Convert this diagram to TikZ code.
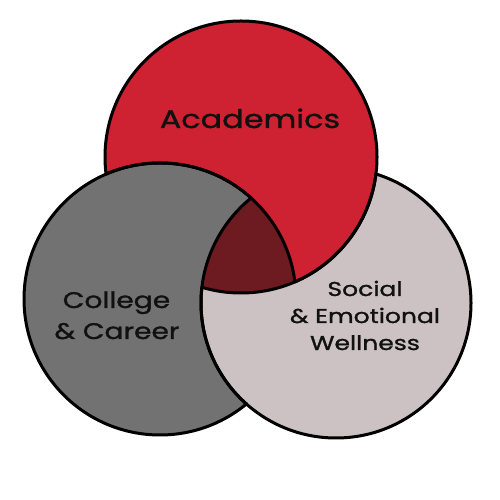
\documentclass[tikz,border=0pt]{standalone}
\usepackage{fontspec}
\newfontfamily\vfont[FakeStretch=1.25,FakeBold=1.3]{Poppins}
\definecolor{acadred}{HTML}{CE2131}
\definecolor{collgray}{HTML}{727272}
\definecolor{socpink}{HTML}{CCC2C3}
\definecolor{coredark}{HTML}{6D1A20}
\definecolor{inkc}{HTML}{111111}
\tikzset{
  ring/.style={draw=black, line width=3pt},
  lbl/.style={anchor=base, inner sep=0pt, text=inkc, font=\vfont},
}
\newcommand{\outside}[2]{\clip (-20,-20) rectangle (520,520) (#1) circle (#2);}
\begin{document}
\begin{tikzpicture}[x=1pt,y=1pt]
\useasboundingbox (0,0) rectangle (500,500);
\fill[white] (0,0) rectangle (500,500);
\coordinate (R) at (241,343);
\coordinate (G) at (160,201);
\coordinate (P) at (336,197);
\def\rR{136pt}
\def\rG{136pt}
\def\rP{135pt}
% fills
\fill[socpink] (P) circle (\rP);
\fill[acadred] (R) circle (\rR);
\begin{scope}[even odd rule]\outside{P}{\rP}\fill[collgray] (G) circle (\rG);\end{scope}
\begin{scope}\clip (G) circle (\rG);\clip (R) circle (\rR);\fill[coredark] (P) circle (\rP);\end{scope}
% outlines: pink (outside red or inside gray)
\begin{scope}[even odd rule]\outside{R}{\rR}\draw[ring] (P) circle (\rP);\end{scope}
\begin{scope}\clip (G) circle (\rG);\draw[ring] (P) circle (\rP);\end{scope}
% red (outside gray or inside pink)
\begin{scope}[even odd rule]\outside{G}{\rG}\draw[ring] (R) circle (\rR);\end{scope}
\begin{scope}\clip (P) circle (\rP);\draw[ring] (R) circle (\rR);\end{scope}
% gray (outside pink or inside red)
\begin{scope}[even odd rule]\outside{P}{\rP}\draw[ring] (G) circle (\rG);\end{scope}
\begin{scope}\clip (R) circle (\rR);\draw[ring] (G) circle (\rG);\end{scope}
% labels
\node[lbl, font=\vfont\fontsize{25.5}{30}\selectfont] (acad) at (250,372) {Academics};
\node[lbl, font=\vfont\fontsize{22.5}{26}\selectfont] (coll1) at (116.5,192) {College};
\node[lbl, font=\vfont\fontsize{22.5}{26}\selectfont] (coll2) at (117,161) {\& Career};
\node[lbl, font=\vfont\fontsize{20}{24}\selectfont] (soc1) at (365,204) {Social};
\node[lbl, font=\vfont\fontsize{20}{24}\selectfont] (soc2) at (365,177) {\& Emotional};
\node[lbl, font=\vfont\fontsize{20}{24}\selectfont] (soc3) at (365,150) {Wellness};
\end{tikzpicture}
\end{document}
